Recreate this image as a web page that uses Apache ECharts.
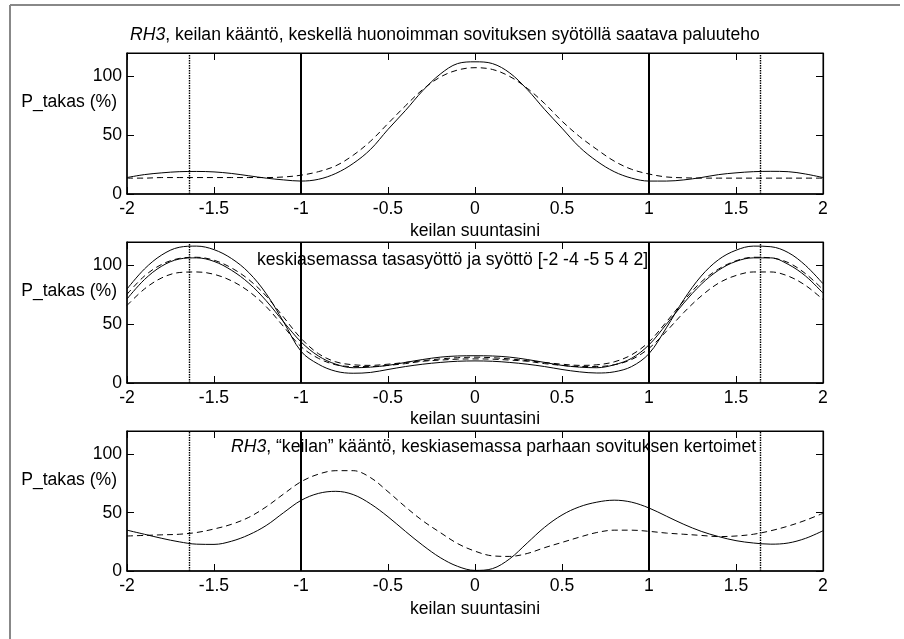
<!DOCTYPE html>
<html>
<head>
<meta charset="utf-8">
<script src="https://cdn.jsdelivr.net/npm/echarts@6/dist/echarts.min.js"></script>
<style>
  html, body { margin: 0; padding: 0; background: #fff; }
  #chart { width: 904px; height: 639px; }
</style>
</head>
<body>
<div id="chart"></div>
<script>
// Beam direction (sine) sample points
const sinePos = [-2.0, -1.9, -1.8, -1.7, -1.6, -1.5, -1.4, -1.3, -1.2, -1.1, -1.0,
                 -0.9, -0.8, -0.7, -0.6, -0.5, -0.4, -0.3, -0.2, -0.1, 0.0,
                  0.1,  0.2,  0.3,  0.4,  0.5,  0.6,  0.7,  0.8,  0.9, 1.0,
                  1.1,  1.2,  1.3,  1.4,  1.5,  1.6,  1.7,  1.8,  1.9, 2.0];

// Panel 1: worst-fit feed in the centre
const p1Solid = [14, 16.5, 18, 19, 19.2, 18.8, 17.5, 15.5, 13.5, 12, 11,
                 12.5, 17.5, 26, 38, 55, 71, 88, 102, 111, 112.5,
                 111, 103, 89, 72, 56, 40, 28, 19, 13.5, 11,
                 11, 12, 14, 16.5, 18, 19, 19.3, 19, 17, 14];
const p1Dashed = [13.5, 13.5, 14, 14, 14, 14, 14, 14, 14, 14.5, 16,
                  19, 24, 33, 45, 60, 75, 89, 99.5, 105.5, 107.5,
                  106, 100, 90, 77, 62, 49, 38, 28, 21, 17,
                  14.5, 13.8, 13.5, 13.5, 13.5, 13.5, 13.5, 13.5, 13.5, 13.5];

// Panel 2: uniform feed and feed [-2 -4 -5 5 4 2] in the centre
const p2SolidA = [80, 97, 109, 115.5, 116.5, 113.5, 106, 94, 76, 52, 27,
                  16, 10, 8.3, 9, 11.5, 14, 16, 17.5, 18.5, 18.8,
                  18.5, 17.5, 16, 14, 11.5, 9.5, 8.5, 9.5, 14, 25,
                  47, 71, 91, 105, 113, 116.5, 116, 111, 100, 84.5];
const p2DashedB = [75.5, 91, 101, 106, 107, 104.5, 98, 88, 74, 56, 38,
                   25, 18, 15.5, 15, 16, 17.5, 19, 20.5, 21.5, 22,
                   21.5, 20.5, 19, 17.5, 16, 15, 15.5, 18, 24, 35,
                   52, 70, 86, 97, 104, 107, 106.5, 102.5, 93, 79.5];
const p2SolidC = [71.5, 88, 99.5, 105.5, 106.5, 103.5, 96, 85, 70, 52, 35,
                  23, 16, 13, 13.5, 15, 17.5, 20, 22, 23, 23.2,
                  23, 22, 20, 17.5, 15, 13.5, 13, 15.5, 21, 32.5,
                  50, 68, 84, 96, 103.5, 106.5, 106.5, 101, 91, 76.5];
const p2DashedD = [66, 80, 89.5, 94, 94.5, 92.5, 87, 78, 65, 48, 31,
                   21, 15.5, 14, 14, 15, 16.5, 18.5, 19.5, 20.3, 20.5,
                   20.3, 19.5, 18.5, 16.5, 15, 14, 14, 15.5, 20, 29.5,
                   44, 60, 74, 85, 91.5, 94.5, 94.5, 91, 83, 71];

// Panel 3: best-fit coefficients in the centre
const p3Solid = [35, 31.5, 28, 25, 23, 22.8, 25.5, 31, 39, 50, 60.5,
                 66.5, 68.3, 65.5, 57.5, 46.5, 34, 22, 11.5, 4, 0.5,
                 2, 10.5, 24, 37.5, 48, 55, 59, 60.7, 59, 54,
                 47, 40, 34, 29.5, 26, 24, 23, 24, 28, 34.5];
const p3Dashed = [30, 30.5, 31, 31.5, 33, 36, 40, 46, 55, 66, 76.5,
                  83, 86, 86, 80, 68, 55, 43, 33, 23.5, 17,
                  13, 12.5, 15, 20, 24.5, 29, 33, 35, 35, 34,
                  32.5, 31.5, 30.5, 29.5, 30, 31.5, 34.5, 38.5, 43.5, 49.5];

const xTicks = [-2, -1.5, -1, -0.5, 0, 0.5, 1, 1.5, 2];
const yTicks = [0, 50, 100];
const mainLobeEdges = [-1, 1];
const gratingEdges = [-1.64, 1.64];

const panelTexts = [
  '{i|RH3}, keilan kääntö, keskellä huonoimman sovituksen syötöllä saatava paluuteho',
  'keskiasemassa tasasyöttö ja syöttö [-2 -4 -5 5 4 2]',
  '{i|RH3}, “keilan” kääntö, keskiasemassa parhaan sovituksen kertoimet'
];
const yName = 'P_takas (%)';
const xName = 'keilan suuntasini';

const FONT = '"Liberation Sans", Arial, sans-serif';
const FS = 17.6;

const grids = [
  { left: 127, top: 53, width: 696, height: 141 },
  { left: 127, top: 242, width: 696, height: 141 },
  { left: 127, top: 431, width: 696, height: 140 }
];

const pairs = ys => sinePos.map((x, i) => [x, ys[i]]);

const xAxes = [], yAxes = [], series = [];
grids.forEach((g, gi) => {
  xAxes.push({
    gridIndex: gi, type: 'value', min: -2, max: 2, interval: 0.5,
    axisLine: { show: true, onZero: false, lineStyle: { color: '#000', width: 1.5 } },
    axisTick: { show: true, inside: true, length: 7, customValues: xTicks, lineStyle: { color: '#000' } },
    axisLabel: { show: true, margin: 6, color: '#000', fontFamily: FONT, fontSize: FS, customValues: xTicks },
    splitLine: { show: false }
  });
  xAxes.push({
    gridIndex: gi, type: 'value', min: -2, max: 2, interval: 0.5, position: 'top',
    axisLine: { show: true, onZero: false, lineStyle: { color: '#000', width: 1.2 } },
    axisTick: { show: true, inside: true, length: 7, customValues: xTicks, lineStyle: { color: '#000' } },
    axisLabel: { show: false },
    splitLine: { show: false }
  });
  yAxes.push({
    gridIndex: gi, type: 'value', min: 0, max: 120, interval: 50,
    axisLine: { show: true, onZero: false, lineStyle: { color: '#000', width: 1.5 } },
    axisTick: { show: true, inside: true, length: 7, customValues: yTicks, lineStyle: { color: '#000' } },
    axisLabel: { show: true, margin: 5, color: '#000', fontFamily: FONT, fontSize: FS, customValues: yTicks },
    splitLine: { show: false }
  });
  yAxes.push({
    gridIndex: gi, type: 'value', min: 0, max: 120, interval: 50, position: 'right',
    axisLine: { show: true, onZero: false, lineStyle: { color: '#000', width: 1.2 } },
    axisTick: { show: true, inside: true, length: 7, customValues: yTicks, lineStyle: { color: '#000' } },
    axisLabel: { show: false },
    splitLine: { show: false }
  });
});

function line(gi, ys, dashed, withMarks) {
  const s = {
    type: 'line', xAxisIndex: gi * 2, yAxisIndex: gi * 2,
    data: pairs(ys), showSymbol: false, smooth: 0.35, silent: true,
    lineStyle: { color: '#000', width: 1, type: dashed ? [6, 4] : 'solid' },
    z: 3
  };
  if (withMarks) {
    s.markLine = {
      silent: true, symbol: 'none', label: { show: false },
      data: mainLobeEdges.map(v => ({ xAxis: v, lineStyle: { color: '#000', width: 2, type: 'solid' } }))
        .concat(gratingEdges.map(v => ({ xAxis: v, lineStyle: { color: '#000', width: 1.4, type: [1.5, 1] } })))
    };
  }
  return s;
}

series.push(line(0, p1Solid, false, true));
series.push(line(0, p1Dashed, true, false));
series.push(line(1, p2SolidA, false, true));
series.push(line(1, p2DashedB, true, false));
series.push(line(1, p2SolidC, false, false));
series.push(line(1, p2DashedD, true, false));
series.push(line(2, p3Solid, false, true));
series.push(line(2, p3Dashed, true, false));

const txt = (x, y, text, align) => ({
  type: 'text', x, y, z: 10,
  style: {
    text, fill: '#000', font: FS + 'px ' + FONT,
    align: align || 'left', verticalAlign: 'middle',
    rich: { i: { fontStyle: 'italic', fontSize: FS, fontFamily: FONT } }
  }
});

const graphic = [
  // figure frame
  { type: 'line', shape: { x1: 10, y1: 5, x2: 900, y2: 5 }, style: { stroke: '#888', lineWidth: 2 } },
  { type: 'line', shape: { x1: 10, y1: 5, x2: 10, y2: 639 }, style: { stroke: '#888', lineWidth: 2 } },
  txt(130, 35, panelTexts[0]),
  txt(257, 260, panelTexts[1]),
  txt(231, 447, panelTexts[2]),
  txt(117, 102, yName, 'right'),
  txt(117, 291.5, yName, 'right'),
  txt(117, 480.5, yName, 'right'),
  txt(475, 231, xName, 'center'),
  txt(475, 419, xName, 'center'),
  txt(475, 609, xName, 'center')
];

const chart = echarts.init(document.getElementById('chart'), null, { renderer: 'canvas' });
chart.setOption({
  animation: false,
  backgroundColor: '#fff',
  textStyle: { fontFamily: FONT },
  grid: grids.map(g => Object.assign({ show: true, borderColor: '#000', borderWidth: 1, backgroundColor: '#fff' }, g)),
  xAxis: xAxes,
  yAxis: yAxes,
  series,
  graphic
});
</script>
</body>
</html>
